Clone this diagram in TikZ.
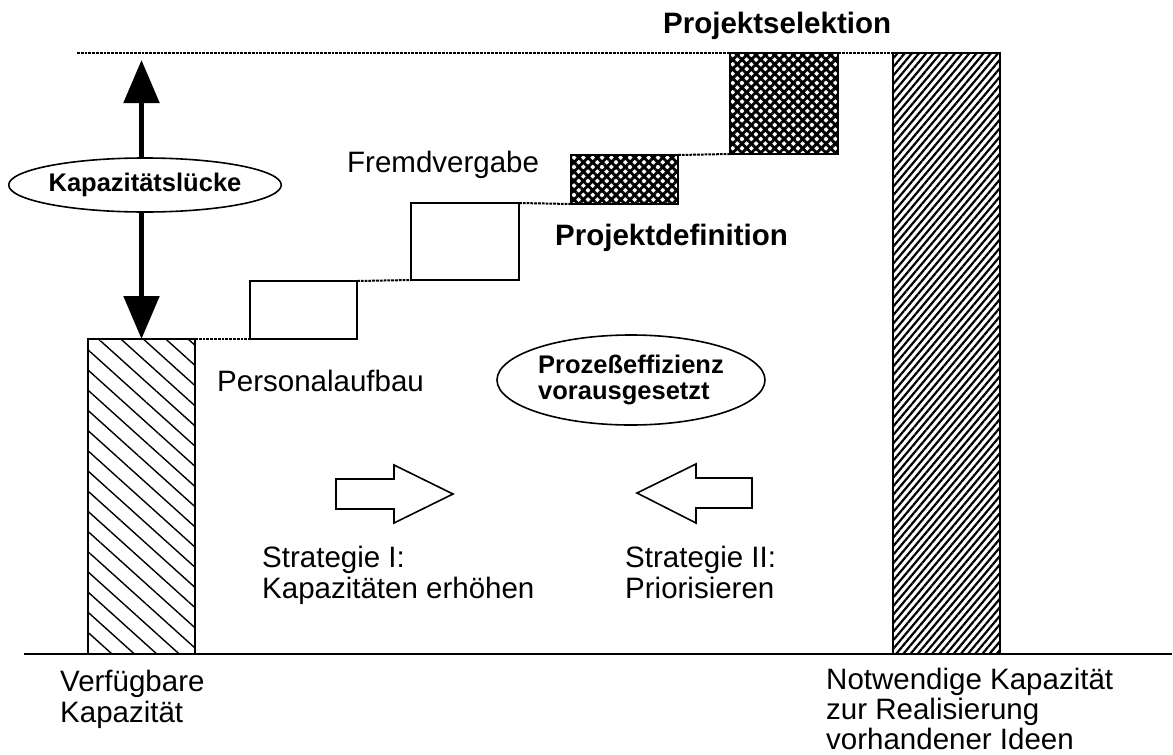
\documentclass[tikz,border=0pt]{standalone}
\usepackage{fontspec}
\setmainfont{Liberation Sans}
\usetikzlibrary{arrows.meta,patterns.meta,shapes.geometric}
\begin{document}
\begin{tikzpicture}[x=1pt,y=-1pt,
  bar/.style={draw,line width=2pt,inner sep=0pt,outer sep=0pt},
  stepbox/.style={bar,fill=white},
  cross/.style={bar,pattern={Hatch[angle=45,distance=6.6pt,line width=2.9pt]}},
  guide/.style={line width=2pt,dash pattern=on 2.8pt off 1pt},
  lbl/.style={font=\fontsize{29.5}{31}\selectfont,inner sep=0pt,anchor=base west,align=left},
  blbl/.style={font=\bfseries\fontsize{29.5}{31}\selectfont,inner sep=0pt,anchor=base west},
  oval/.style={ellipse,draw,line width=1.6pt,fill=white,inner sep=0pt},
  blockarrow/.style={draw,line width=1.6pt,fill=white,line join=miter}
]
\useasboundingbox (0,0) rectangle (1173,755);

% ground line
\coordinate (axL) at (24,654);
\coordinate (axR) at (1172,654);
\draw[line width=2pt] (axL) -- (axR);

% capacity bars
\node[bar,minimum width=107pt,minimum height=315pt,
      pattern={Lines[angle=-42,distance=15pt,line width=1.4pt]}] (avail) at (141.5,496.5) {};
\node[bar,minimum width=107pt,minimum height=601pt,
      pattern={Lines[angle=50,distance=5.5pt,line width=2.2pt]}] (need) at (946.5,353.5) {};

% steps
\node[stepbox,minimum width=107pt,minimum height=58pt] (pers) at (303.5,310) {};
\node[stepbox,minimum width=108pt,minimum height=77pt] (fremd) at (465,241.5) {};
\node[cross,minimum width=107pt,minimum height=49pt] (def) at (624.5,179.5) {};
\node[cross,minimum width=108pt,minimum height=101pt] (sel) at (784,103.5) {};

% dotted guides between the steps
\coordinate (topL) at (77,53);
\draw[guide] (topL) -- (sel.north west);
\draw[guide] (sel.north east) -- (need.north west);
\draw[guide] (avail.north east) -- (pers.south west);
\draw[guide] (pers.north east) -- (fremd.south west);
\draw[guide] (fremd.north east) -- (def.south west);
\draw[guide] (def.north east) -- (sel.south west);

% capacity gap
\coordinate (gaptop) at (141.5,60);
\draw[line width=5.5pt,{Triangle[width=35pt,length=43pt]}-{Triangle[width=35pt,length=43pt]}] (gaptop) -- (avail.north);
\node[oval,minimum width=264pt,minimum height=54pt,font=\bfseries\fontsize{25.5}{27}\selectfont] (gap) at (145,185) {Kapazitätslücke};

\node[oval,minimum width=268pt,minimum height=90pt,align=left,font=\bfseries\fontsize{25.5}{26.5}\selectfont] (eff) at (631,380) {Prozeßeffizienz\\vorausgesetzt};

% strategy arrows
\draw[blockarrow] (336,479) -- (394,479) -- (394,465) -- (453,494) -- (394,523) -- (394,509) -- (336,509) -- cycle;
\draw[blockarrow] (752,478) -- (696,478) -- (696,464) -- (637,493) -- (696,523) -- (696,508) -- (752,508) -- cycle;

% labels (multi-line nodes are placed by the baseline of their last line)
\node[blbl] (tsel) at (663,33) {Projektselektion};
\node[lbl] (tfremd) at (347,172) {Fremdvergabe};
\node[blbl] (tdef) at (555,245) {Projektdefinition};
\node[lbl] (tpers) at (217,391) {Personalaufbau};
\node[lbl] (ts1) at (262,598) {Strategie I:\\Kapazitäten erhöhen};
\node[lbl] (ts2) at (625,598) {Strategie II:\\Priorisieren};
\node[lbl] (tavail) at (60,722) {Verfügbare\\Kapazität};
\node[lbl,font=\fontsize{29.5}{30}\selectfont] (tneed) at (826,749) {Notwendige Kapazität\\zur Realisierung\\vorhandener Ideen};
\end{tikzpicture}
\end{document}
